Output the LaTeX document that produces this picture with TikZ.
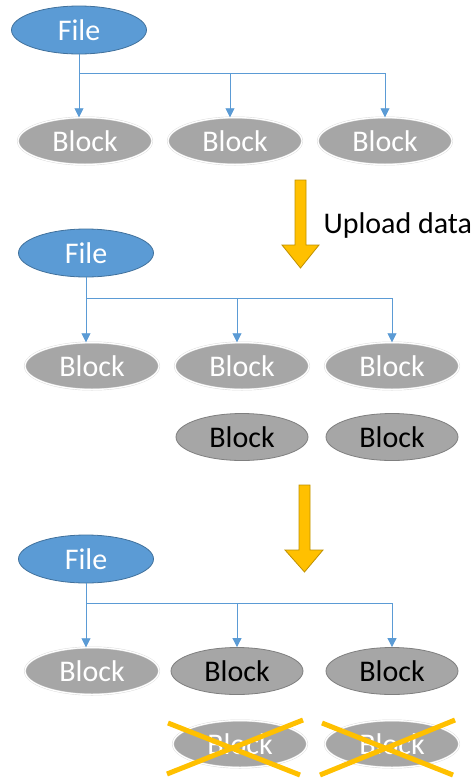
\documentclass[tikz,border=0pt]{standalone}
\usepackage{fontspec}
\setmainfont{Carlito}
\usetikzlibrary{shapes.geometric,arrows.meta}
\definecolor{fileblue}{HTML}{5B9BD5}
\definecolor{fileedge}{HTML}{41719C}
\definecolor{blockgray}{HTML}{A6A6A6}
\definecolor{blockedge}{HTML}{7F7F7F}
\definecolor{gold}{HTML}{FFC000}
\definecolor{goldedge}{HTML}{BF9000}
\tikzset{
  filenode/.style={ellipse,fill=fileblue,draw=fileedge,line width=0.8pt,minimum width=135pt,minimum height=48pt,inner sep=0pt,text=white,font=\fontsize{30}{30}\selectfont},
  oldblock/.style={ellipse,fill=blockgray,draw=black!15,double=white,double distance=1.2pt,minimum width=134pt,minimum height=47pt,inner sep=0pt,text=white,font=\fontsize{30}{30}\selectfont},
  newblock/.style={ellipse,fill=blockgray,draw=blockedge,line width=0.8pt,minimum width=132pt,minimum height=47pt,inner sep=0pt,text=black,font=\fontsize{30}{30}\selectfont},
  link/.style={draw=fileblue,line width=0.8pt,-{Triangle[width=9pt,length=9pt]}},
  bigarrow/.style={fill=gold,draw=goldedge,line width=0.8pt,line join=miter},
  cross/.style={draw=gold,line width=5pt}
}
\begin{document}
\begin{tikzpicture}[x=1pt,y=-1pt]
\useasboundingbox (0,0) rectangle (474,782);

% before upload
\node[filenode] (file1) at (79,30) {File};
\node[oldblock] (b11) at (85,141) {Block};
\node[oldblock] (b12) at (235,141) {Block};
\node[oldblock] (b13) at (385,141) {Block};
\coordinate (j1) at (79,73);
\draw[link] (file1) -- (file1.south |- b11.north);
\draw[link] (j1) -| ([xshift=-5pt]b12.north);
\draw[link] (j1) -| (b13.north);

\draw[bigarrow] (295,180) -- (306,180) -- (306,245) -- (319,245) -- (300.5,268)
  -- (282,245) -- (295,245) -- cycle;
\node[anchor=base west,font=\fontsize{30}{30}\selectfont] (upload) at (320,233) {Upload data};

% after upload
\node[filenode] (file2) at (86,253) {File};
\node[oldblock] (b21) at (92,366) {Block};
\node[oldblock] (b22) at (242,366) {Block};
\node[oldblock] (b23) at (392,366) {Block};
\node[newblock] (c22) at (242,437) {Block};
\node[newblock] (c23) at (392,437) {Block};
\coordinate (j2) at (86,298);
\draw[link] (file2) -- (file2.south |- b21.north);
\draw[link] (j2) -| ([xshift=-5pt]b22.north);
\draw[link] (j2) -| (b23.north);

\draw[bigarrow] (299,485) -- (310,485) -- (310,550) -- (323,550) -- (304.5,572)
  -- (285,550) -- (299,550) -- cycle;

% after cleanup
\node[filenode] (file3) at (86,559) {File};
\node[oldblock] (b31) at (92,671) {Block};
\node[newblock] (c32) at (237,671) {Block};
\node[newblock] (c33) at (392,671) {Block};
\node[oldblock] (d32) at (240,744) {Block};
\node[oldblock] (d33) at (392,744) {Block};
\coordinate (j3) at (86,603);
\draw[link] (file3) -- (file3.south |- b31.north);
\draw[link] (j3) -| (c32.north);
\draw[link] (j3) -| (c33.north);

\draw[cross] (168,723) -- (300,775);
\draw[cross] (167,774) -- (303,720);
\draw[cross] (322,723) -- (453,775);
\draw[cross] (320,775) -- (455,720);
\end{tikzpicture}
\end{document}
